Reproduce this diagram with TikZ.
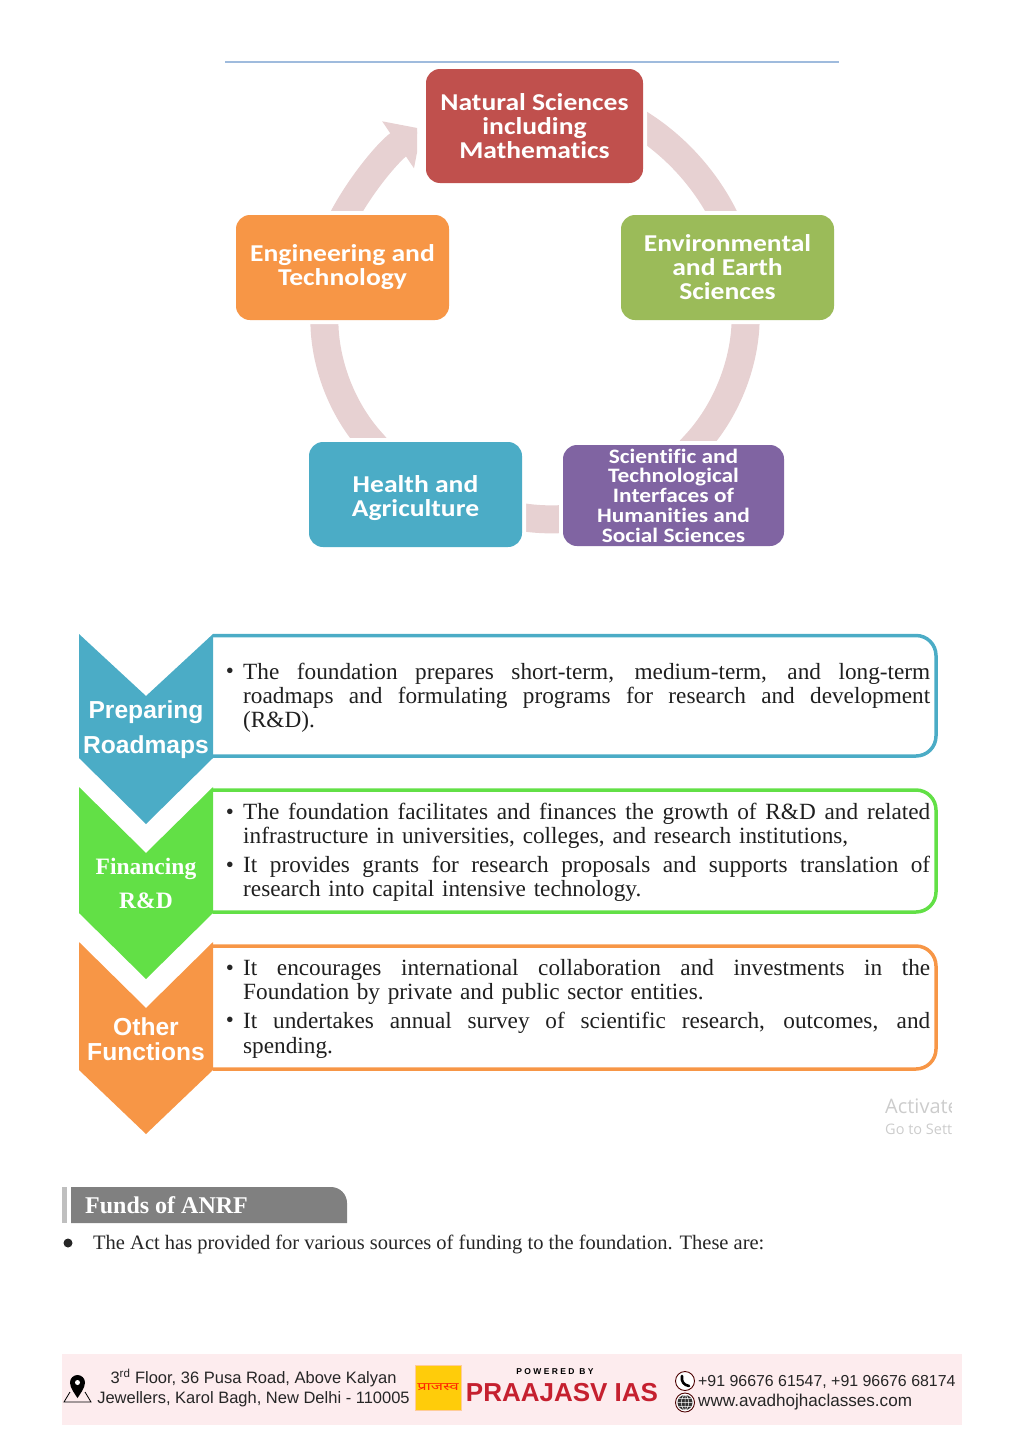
\documentclass[tikz,border=0pt]{standalone}
\usepackage{fontspec}
\setmainfont{Liberation Serif}
\setsansfont{Liberation Sans}
\newfontfamily\boxfont[FakeStretch=1.14,Ligatures=NoCommon]{Carlito}
\newfontfamily\devafont[Script=Devanagari,FakeStretch=1.5]{Noto Sans}
\newfontfamily\spacedfont[LetterSpace=28]{Liberation Sans}
\newfontfamily\winfont{Open Sans}
\usetikzlibrary{positioning,arrows.meta,backgrounds}
\definecolor{ringpink}{HTML}{E7D1D2}
\definecolor{natred}{HTML}{C0504D}
\definecolor{envgreen}{HTML}{9BBB59}
\definecolor{engorange}{HTML}{F79646}
\definecolor{healthblue}{HTML}{4BACC6}
\definecolor{scipurple}{HTML}{8064A2}
\definecolor{finlime}{HTML}{62E046}
\definecolor{footpink}{HTML}{FDECEE}
\definecolor{iasred}{HTML}{C5202F}
\definecolor{rulecolor}{HTML}{9FBBDD}
\definecolor{logoyellow}{HTML}{FFCC0A}
\newcommand{\jline}[1]{\makebox[687pt][s]{\spaceskip=0pt #1}}
\tikzset{
  cyclebox/.style={rounded corners=14pt, fill=#1, inner sep=0pt, align=center, text=white,
    preaction={draw=white, line width=8pt},
    font=\boxfont\bfseries\fontsize{24.2}{24}\selectfont},
  ringarc/.style={draw=ringpink, line width=28pt, line cap=rect, looseness=0.85},
  ringarrow/.style={draw=ringpink, line width=28pt, looseness=0.85},
  para/.style={anchor=north west, inner sep=0pt, text width=687pt, align=left, text=black!88,
    font=\rmfamily\fontsize{23.25}{24}\selectfont},
  dotmark/.style={inner sep=0pt, text=black!85, font=\rmfamily\fontsize{23}{23}\selectfont},
  chevlabel/.style={inner sep=0pt, text=white, font=\sffamily\bfseries\fontsize{24.6}{24}\selectfont},
  chevserif/.style={inner sep=0pt, text=white, font=\rmfamily\bfseries\fontsize{23.5}{23}\selectfont},
  foot/.style={inner sep=0pt, text=black!85, font=\sffamily\fontsize{16.5}{19.5}\selectfont},
}
\begin{document}
\begin{tikzpicture}[x=1pt, y=1pt]
  \useasboundingbox (0,-1448) rectangle (1024,0);
  \draw[line width=1.2pt, color=rulecolor] (225,-62) -- (839,-62);

  % research areas
  \node[cyclebox=natred, minimum width=217pt, minimum height=114pt] (natural) at (534.5,-126)
    {Natural Sciences\\including\\Mathematics};
  \node[cyclebox=envgreen, minimum width=213pt, minimum height=105pt] (env) at (727.5,-267.5)
    {Environmental\\and Earth\\Sciences};
  \node[cyclebox=engorange, minimum width=213pt, minimum height=105pt] (eng) at (342.5,-267.5)
    {Engineering and\\Technology};
  \node[cyclebox=healthblue, minimum width=213pt, minimum height=105pt] (health) at (415.5,-494.5) {};
  \node[inner sep=0pt, align=center, text=white, font=\boxfont\bfseries\fontsize{24.2}{24}\selectfont,
        below=34pt of health.north] (healthtext) {Health and\\Agriculture};
  \node[cyclebox=scipurple, minimum width=221pt, minimum height=101pt,
        font=\boxfont\bfseries\fontsize{20.5}{19.8}\selectfont] (sci) at (673.5,-495.5)
    {Scientific and\\Technological\\Interfaces of\\Humanities and\\Social Sciences};
  \coordinate[below left=12pt and 4pt of eng.north] (engstart);
  \coordinate[below left=7pt and 1pt of env.north] (envend);
  \begin{scope}[on background layer]
    \draw[ringarc] (natural.east) to[bend left=16] (envend);
    \draw[ringarc] (env.-71) to[bend left=21] (sci.67);
    \draw[ringarc] (sci.192) to[bend left=6] (health.-12);
    \draw[ringarc] (health.130) to[bend left=21] (eng.-109);
    \begin{scope}
      \clip (300,-240) rectangle (417,-100);
      \draw[ringarrow, shorten >=5pt, -{Triangle[length=28.5pt, width=55pt]}]
        (engstart) to[bend left=15] (natural.west);
    \end{scope}
  \end{scope}

  % functions
  \foreach \ytop/\ynotch/\yend/\ytip/\col in {634/696/758/824/healthblue, 787/853/913/979/finlime, 942/1008/1070/1134/engorange} {
    \fill[\col] (79,-\ytop) -- (146,-\ynotch) -- (213,-\ytop) -- (213,-\yend)
      -- (146,-\ytip) -- (79,-\yend) -- cycle;
  }
  \foreach \ytop/\yend/\col in {635.5/756/healthblue, 790/912/finlime, 946/1069/engorange} {
    \draw[\col, line width=3.5pt, rounded corners=20pt] (213,-\ytop) -- (936,-\ytop)
      -- (936,-\yend) -- (213,-\yend);
  }
  \node[chevlabel] (prep) at (146,-712) {Preparing};
  \node[chevlabel] (road) at (146,-747) {Roadmaps};
  \node[chevserif] (fin) at (146,-869) {Financing};
  \node[chevserif] (rnd) at (146,-901) {R\&D};
  \node[chevlabel] (other) at (146,-1027) {Other};
  \node[chevlabel] (func) at (146,-1052) {Functions};

  \node[para] (p1) at (243,-663) {\jline{The foundation prepares short-term, medium-term, and long-term}\\
    \jline{roadmaps and formulating programs for research and development}\\(R\&D).};
  \node[para] (p2) at (243,-803) {\jline{The foundation facilitates and finances the growth of R\&D and related}\\
    infrastructure in universities, colleges, and research institutions,};
  \node[para] (p3) at (243,-856) {\jline{It provides grants for research proposals and supports translation of}\\
    research into capital intensive technology.};
  \node[para] (p4) at (243,-959) {\jline{It encourages international collaboration and investments in the}\\
    Foundation by private and public sector entities.};
  \node[para] (p5) at (243,-1012) {\jline{It undertakes annual survey of scientific research, outcomes, and}\\[1pt]
    spending.};
  \foreach \nm/\y in {d1/673, d2/814, d3/867, d4/970, d5/1022}
    \node[dotmark] (\nm) at (230,-\y) {\textbullet};

  % watermark
  \begin{scope}
    \clip (880,-1090) rectangle (951,-1140);
    \node[anchor=base west, inner sep=0pt, text=black!20, font=\winfont\fontsize{20}{20}\selectfont] (act) at (885,-1113) {Activate};
    \node[anchor=base west, inner sep=0pt, text=black!20, font=\winfont\fontsize{14.5}{15}\selectfont] (goto) at (885,-1134) {Go to Settings};
  \end{scope}

  % funds
  \fill[black!25] (62,-1187) rectangle (67,-1223);
  \fill[black!50] (71,-1223) -- (71,-1187) -- (331,-1187) arc[start angle=90, end angle=0, radius=16] -- (347,-1223) -- cycle;
  \node[anchor=west, inner sep=0pt, text=white, font=\rmfamily\bfseries\fontsize{24}{24}\selectfont] (funds) at (85,-1205) {Funds of ANRF};
  \fill[black!85] (68,-1243) circle (4.5pt);
  \node[anchor=west, inner sep=0pt, text=black!85, font=\rmfamily\fontsize{20.5}{22}\selectfont] (act line) at (93,-1244)
    {The Act has provided for various sources of funding to the foundation. These are:};

  % footer
  \fill[footpink] (62,-1354) rectangle (962,-1425);
  \node[foot, align=center] (addr) at (253.5,-1388)
    {3\textsuperscript{rd} Floor, 36 Pusa Road, Above Kalyan\\Jewellers, Karol Bagh, New Delhi - 110005};
  \fill[black] (70,-1382.5) arc[start angle=180, end angle=0, radius=7.5]
    .. controls (85,-1388) and (80,-1394) .. (77.5,-1398) .. controls (75,-1394) and (70,-1388) .. (70,-1382.5) -- cycle;
  \fill[white] (77.5,-1382.5) circle (2.5pt);
  \draw[black, line width=0.8pt] (70,-1392) -- (64,-1402) -- (91,-1402) -- (85,-1392);
  \node[draw=orange!40, fill=logoyellow, minimum width=46pt, minimum height=45pt, inner sep=0pt,
        text=red!70!orange, font=\devafont\fontsize{11}{12}\selectfont] (logo) at (438,-1387.5) {प्राजस्व};
  \node[inner sep=0pt, text=black, font=\spacedfont\bfseries\fontsize{8.5}{9}\selectfont] (powered) at (555,-1372)
    {POWERED BY};
  \node[inner sep=0pt, text=iasred, font=\sffamily\bfseries\fontsize{26}{26}\selectfont] (ias) at (562,-1392.5) {PRAAJASV IAS};
  \node[foot, anchor=west, font=\sffamily\fontsize{15.9}{19}\selectfont] (phone) at (698,-1381.5) {+91 96676 61547, +91 96676 68174};
  \node[foot, anchor=west, font=\sffamily\fontsize{17.1}{19}\selectfont] (web) at (698,-1402) {www.avadhojhaclasses.com};
  \draw[black!70!red, line width=0.9pt, fill=white] (685,-1381) circle (9.5pt) (685,-1402.5) circle (9.5pt);
  \draw[black, line width=2.6pt, line cap=round] (682,-1376) .. controls (681,-1382) and (684,-1385) .. (689,-1386);
  \fill[black!80] (685,-1402.5) circle (7.5pt);
  \draw[white, line width=0.5pt] (677.5,-1402.5) -- (692.5,-1402.5) (685,-1395) -- (685,-1410)
    (685,-1402.5) ellipse (3.5pt and 7.5pt) (679,-1398.5) -- (691,-1398.5) (679,-1406.5) -- (691,-1406.5);
\end{tikzpicture}
\end{document}
